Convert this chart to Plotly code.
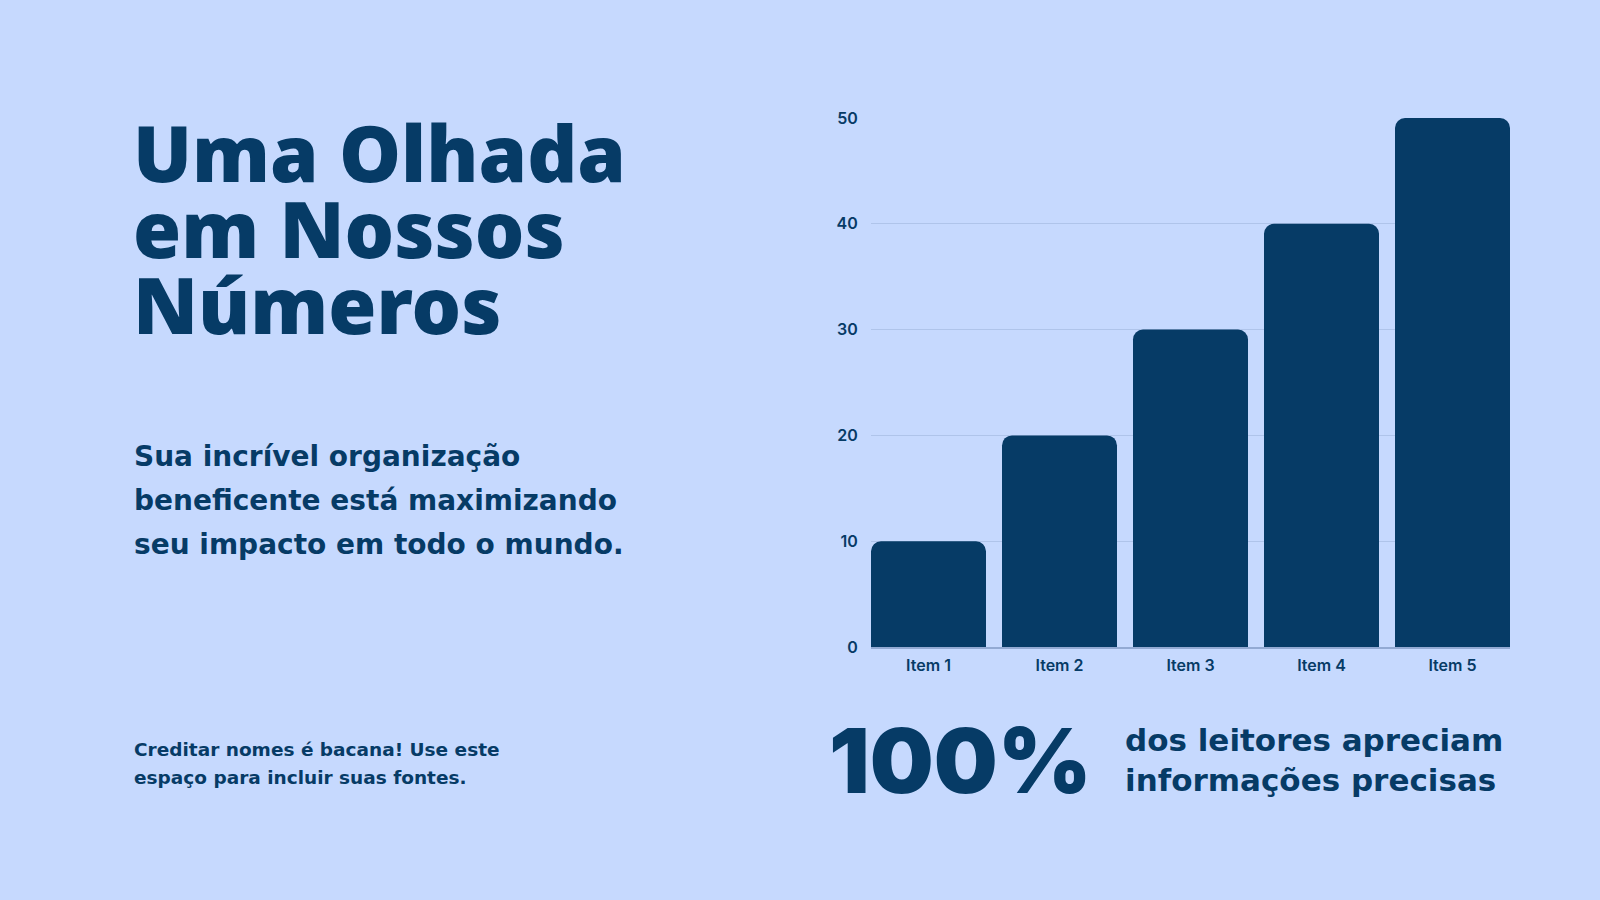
import plotly.graph_objects as go

# ---- data ----
categories = ["Item 1", "Item 2", "Item 3", "Item 4", "Item 5"]
values = [10, 20, 30, 40, 50]
y_ticks = [0, 10, 20, 30, 40, 50]

title_lines = ["Uma Olhada", "em Nossos", "Números"]
body_lines = ["Sua incrível organização", "beneficente está maximizando", "seu impacto em todo o mundo."]
credit_lines = ["Creditar nomes é bacana! Use este", "espaço para incluir suas fontes."]
stat_value = "100%"
stat_lines = ["dos leitores apreciam", "informações precisas"]

# ---- style ----
W, H = 1600, 900
BG = "#C6D9FE"
NAVY = "#063B66"
GRID = "#AFC4EA"

def px(x):
    return x / W

def py(y):
    return 1 - y / H

fig = go.Figure()
fig.add_trace(go.Bar(
    x=categories, y=values,
    marker=dict(color=NAVY, cornerradius=10, line=dict(width=0)),
    hoverinfo="x+y",
))

annotations = []
TITLE_FONT = dict(family="Noto Sans", size=78, color=NAVY, weight=900)
for i, t in enumerate(title_lines):
    annotations.append(dict(text=t, x=px(131), y=py(152 + 76 * i), xanchor="left", yanchor="middle",
                            showarrow=False, font=TITLE_FONT, xref="paper", yref="paper"))
BODY_FONT = dict(family="DejaVu Sans", size=28, color=NAVY, weight=700)
for i, t in enumerate(body_lines):
    annotations.append(dict(text=t, x=px(132), y=py(456 + 44 * i), xanchor="left", yanchor="middle",
                            showarrow=False, font=BODY_FONT, xref="paper", yref="paper"))
CREDIT_FONT = dict(family="DejaVu Sans", size=18.5, color=NAVY, weight=700)
for i, t in enumerate(credit_lines):
    annotations.append(dict(text=t, x=px(132), y=py(749 + 28 * i), xanchor="left", yanchor="middle",
                            showarrow=False, font=CREDIT_FONT, xref="paper", yref="paper"))
annotations.append(dict(text=stat_value, x=px(827), y=py(760), xanchor="left", yanchor="middle",
                        showarrow=False, font=dict(family="Inter", size=90, color=NAVY, weight=900),
                        xref="paper", yref="paper"))
STAT_FONT = dict(family="DejaVu Sans", size=31, color=NAVY, weight=700)
for i, t in enumerate(stat_lines):
    annotations.append(dict(text=t, x=px(1123), y=py(740 + 40 * i), xanchor="left", yanchor="middle",
                            showarrow=False, font=STAT_FONT, xref="paper", yref="paper"))

n = len(categories)
bar_w = 115 / 131
fig.update_layout(
    width=W, height=H,
    paper_bgcolor=BG, plot_bgcolor=BG,
    margin=dict(l=0, r=0, t=0, b=0),
    showlegend=False,
    bargap=1 - bar_w,
    annotations=annotations,
    font=dict(family="Inter", color=NAVY),
    xaxis=dict(
        domain=[px(871), px(1510)],
        range=[-bar_w / 2, n - 1 + bar_w / 2],
        showgrid=False, zeroline=False,
        showline=True, linecolor="#93AAD3", linewidth=1.5,
        ticks="outside", ticklen=3, tickcolor="rgba(0,0,0,0)",
        tickfont=dict(family="Inter", size=16, color=NAVY, weight=600),
        automargin=False, fixedrange=True,
    ),
    yaxis=dict(
        domain=[py(647), py(118)],
        range=[0, 50],
        tickvals=y_ticks,
        showgrid=True, gridcolor=GRID, gridwidth=1,
        zeroline=False, showline=False,
        ticks="outside", ticklen=9, tickcolor="rgba(0,0,0,0)",
        tickfont=dict(family="Inter", size=16, color=NAVY, weight=600),
        automargin=False, fixedrange=True,
    ),
)

fig.write_html("out.html", config={"displayModeBar": False},
               post_script="document.body.style.margin='0';document.body.style.overflow='hidden';")
